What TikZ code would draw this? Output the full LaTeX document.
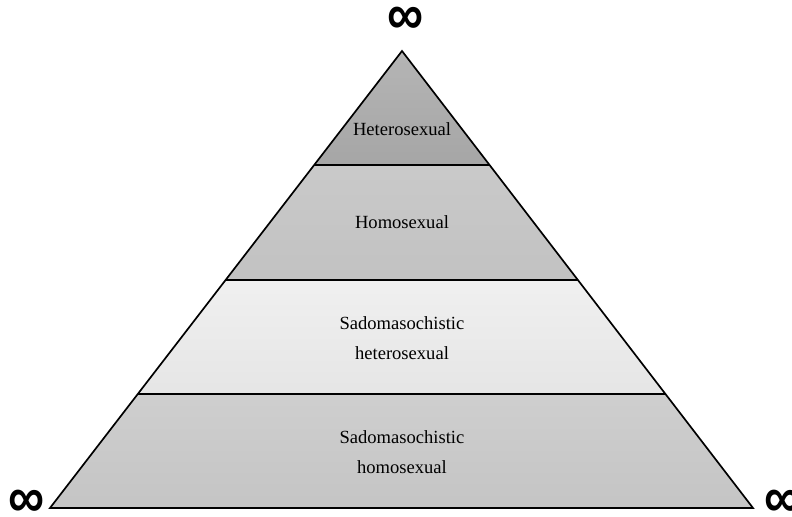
\documentclass[tikz,border=0pt]{standalone}
\usepackage{fontspec}
\setmainfont{Liberation Serif}
\newfontfamily\inffont{Liberation Sans Bold}
\usetikzlibrary{calc}
\newcommand\infsym{\scalebox{1}[1.15]{∞}}
\begin{document}
\begin{tikzpicture}[x=0.025cm, y=-0.025cm,
  band/.style={draw=black, line width=1.2pt, line join=miter},
  lbl/.style={align=center, font=\fontsize{13.2}{21}\selectfont},
  inf/.style={inner sep=0pt, font=\fontsize{36}{36}\inffont}]
\useasboundingbox (0,0) rectangle (792,517);

\coordinate (apex) at (402,51);
\coordinate (bl) at (50,508);
\coordinate (br) at (753,508);

%%%%%%%%%%%%%-------------cortes
\foreach \n/\t in {a/0.2495,b/0.501,c/0.7505}{
\coordinate (l\n) at ($(apex)!\t!(bl)$);
\coordinate (r\n) at ($(apex)!\t!(br)$);}

%%%%%%%%%%%%%-------------franjas
\shade[top color=gray!58, bottom color=gray!70] (apex)--(ra)--(la)--cycle;
\shade[top color=gray!42, bottom color=gray!48] (la)--(ra)--(rb)--(lb)--cycle;
\shade[top color=gray!12, bottom color=gray!20] (lb)--(rb)--(rc)--(lc)--cycle;
\shade[top color=gray!38, bottom color=gray!46] (lc)--(rc)--(br)--(bl)--cycle;

\draw[band] (la)--(ra);
\draw[band] (lb)--(rb);
\draw[band] (lc)--(rc);
\draw[band] (apex)--(br)--(bl)--cycle;

%%%%%%%%%%%%%-------------textos
\node[lbl] (het) at (402,129) {Heterosexual};
\node[lbl] (hom) at (402,222) {Homosexual};
\node[lbl] (sadhet) at (402,338) {Sadomasochistic\\heterosexual};
\node[lbl] (sadhom) at (402,452) {Sadomasochistic\\homosexual};

\node[inf] (inftop) at (406,21) {\infsym};
\node[inf] (infl) at (27,504) {\infsym};
\node[inf] (infr) at (783,504) {\infsym};

\end{tikzpicture}
\end{document}
